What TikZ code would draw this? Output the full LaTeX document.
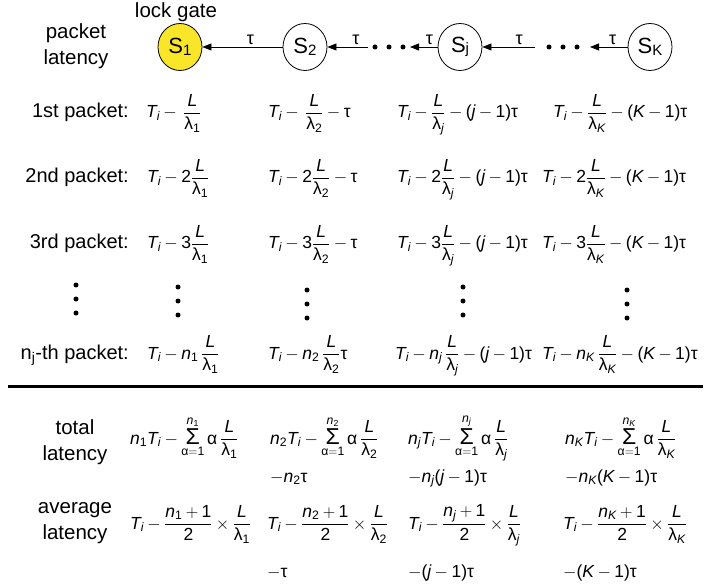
\documentclass[tikz,border=0pt]{standalone}
\usepackage{amsmath}
\usepackage{fontspec}
\setmainfont{Liberation Sans}
\usetikzlibrary{arrows.meta,shapes.geometric}
\definecolor{gateyellow}{RGB}{250,230,40}
\AtBeginDocument{\medmuskip=3.5mu\relax\thickmuskip=4mu\relax}
\newcommand{\mv}[1]{\textit{#1}}
\newcommand{\tn}[1]{\text{#1}}
\newcommand{\dOne}{\text{1}}
\newcommand{\mT}{\mv{T}_{\mv{i}}}
\newcommand{\mlam}{\text{λ}}
\newcommand{\mtau}{\text{τ}}
\newcommand{\malpha}{\text{α}}
\newcommand{\mfr}[1]{\dfrac{\mv{L}}{\mlam_{#1}}}
\newcommand{\mpar}[1]{\tn{(}#1-\tn{1)}}
\newcommand{\msum}[1]{\mathop{\text{\fontsize{23}{23}\selectfont Σ}}\limits_{\malpha=\dOne}^{#1}}
\newcommand{\Sn}[1]{{\fontsize{22}{22}\selectfont S}{\fontsize{15}{15}\selectfont\raisebox{-1.5pt}{#1}}}
\tikzset{
  lbl/.style={anchor=base east, font=\fontsize{20}{24}\selectfont, inner sep=0pt},
  clbl/.style={align=center, font=\fontsize{20.5}{26}\selectfont, inner sep=0pt},
  fm/.style={anchor=base west, font=\fontsize{17.5}{20}\selectfont, inner sep=0pt},
  stn/.style={draw, ellipse, line width=0.8pt, minimum width=44pt, minimum height=47pt, inner sep=0pt},
  arr/.style={line width=0.8pt, -{Triangle[length=9pt,width=7pt]}},
  tl/.style={above, font=\fontsize{18}{18}\selectfont, inner sep=2pt},
  dot/.style={circle, fill, inner sep=0pt, minimum size=5pt},
}
\begin{document}
\begin{tikzpicture}[x=1pt,y=-1pt]
\useasboundingbox (0,0) rectangle (723,588);
% top chain
\node[clbl] (gate) at (176,12) {lock gate};
\node[clbl] (pl) at (76,46) {packet\\latency};
\node[stn, fill=gateyellow] (s1) at (180,47) {\Sn{1}};
\node[stn] (s2) at (305,47) {\Sn{2}};
\node[stn] (sj) at (460,47) {\Sn{j}};
\node[stn] (sk) at (650,47) {\Sn{K}};
\coordinate (d1r) at (368,47);
\coordinate (d1l) at (410,47);
\coordinate (d2r) at (535,47);
\coordinate (d2l) at (590,47);
\node[dot] (a1) at (375,47) {};
\node[dot] (a2) at (389,47) {};
\node[dot] (a3) at (403,47) {};
\node[dot] (b1) at (549,47) {};
\node[dot] (b2) at (563,47) {};
\node[dot] (b3) at (577,47) {};
\draw[arr] (s2) -- (s1) node[tl, pos=0.4] {τ};
\draw[arr] (d1r) -- (s2) node[tl, pos=0.3] {τ};
\draw[arr] (sj) -- (d1l) node[tl, pos=0.3] {τ};
\draw[arr] (d2r) -- (sj) node[tl, pos=0.3] {τ};
\draw[arr] (sk) -- (d2l) node[tl, pos=0.4] {τ};
% row 1
\node[lbl] (l1) at (129,118) {1st packet:};
\node[fm] (r1c1) at (146,118) {$\mT-\,\mfr{\dOne}$};
\node[fm] (r1c2) at (268,118) {$\mT-\,\mfr{\tn{2}}-\mtau$};
\node[fm] (r1c3) at (397,118) {$\mT-\mfr{\mv{j}}-\mpar{\mv{j}}\mtau$};
\node[fm] (r1c4) at (553,118) {$\mT-\mfr{\mv{K}}-\mpar{\mv{K}}\mtau$};
% row 2
\node[lbl] (l2) at (129,183) {2nd packet:};
\node[fm] (r2c1) at (147,183) {$\mT-\tn{2}\mfr{\dOne}$};
\node[fm] (r2c2) at (268,183) {$\mT-\tn{2}\mfr{\tn{2}}-\mtau$};
\node[fm] (r2c3) at (397,183) {$\mT-\tn{2}\mfr{\mv{j}}-\mpar{\mv{j}}\mtau$};
\node[fm] (r2c4) at (542,183) {$\mT-\tn{2}\mfr{\mv{K}}-\mpar{\mv{K}}\mtau$};
% row 3
\node[lbl] (l3) at (129,249) {3rd packet:};
\node[fm] (r3c1) at (147,249) {$\mT-\tn{3}\mfr{\dOne}$};
\node[fm] (r3c2) at (268,249) {$\mT-\tn{3}\mfr{\tn{2}}-\mtau$};
\node[fm] (r3c3) at (397,249) {$\mT-\tn{3}\mfr{\mv{j}}-\mpar{\mv{j}}\mtau$};
\node[fm] (r3c4) at (542,249) {$\mT-\tn{3}\mfr{\mv{K}}-\mpar{\mv{K}}\mtau$};
% vertical dots
\foreach \x/\y [count=\c] in {76/285,178/287,307/290,463/287,627/290}{
  \node[dot] (v\c a) at (\x,\y) {};
  \node[dot] (v\c b) at (\x,\y+14) {};
  \node[dot] (v\c c) at (\x,\y+28) {};
}
% row n
\node[lbl] (ln) at (129,359) {n\textsubscript{j}-th packet:};
\node[fm] (rnc1) at (147,359) {$\mT-\mv{n}_{\dOne}\,\mfr{\dOne}$};
\node[fm] (rnc2) at (268,359) {$\mT-\mv{n}_{\tn{2}}\,\mfr{\tn{2}}\mtau$};
\node[fm] (rnc3) at (395,359) {$\mT-\mv{n}_{\mv{j}}\,\mfr{\mv{j}}-\mpar{\mv{j}}\mtau$};
\node[fm] (rnc4) at (542,359) {$\mT-\mv{n}_{\mv{K}}\,\mfr{\mv{K}}-\mpar{\mv{K}}\mtau$};
% separator
\coordinate (hl) at (8,386);
\coordinate (hr) at (703,386);
\draw[line width=3pt] (hl) -- (hr);
% total latency
\node[clbl] (tl) at (75,442) {total\\latency};
\node[fm] (tc1) at (130,444) {$\mv{n}_{\dOne}\mT-\msum{\mv{n}_{\dOne}}\malpha\,\mfr{\dOne}$};
\node[fm] (tc2) at (270,444) {$\mv{n}_{\tn{2}}\mT-\msum{\mv{n}_{\tn{2}}}\malpha\,\mfr{\tn{2}}$};
\node[fm] (tc3) at (408,444) {$\mv{n}_{\mv{j}}\mT-\msum{\mv{n}_{\mv{j}}}\malpha\,\mfr{\mv{j}}$};
\node[fm] (tc4) at (565,444) {$\mv{n}_{\mv{K}}\mT-\msum{\mv{n}_{\mv{K}}}\malpha\,\mfr{\mv{K}}$};
\node[fm] (td2) at (270,482) {$-\mv{n}_{\tn{2}}\mtau$};
\node[fm] (td3) at (408,482) {$-\mv{n}_{\mv{j}}\mpar{\mv{j}}\mtau$};
\node[fm] (td4) at (565,482) {$-\mv{n}_{\mv{K}}\mpar{\mv{K}}\mtau$};
% average latency
\node[clbl] (al) at (75,523) {average\\latency};
\node[fm] (ac1) at (130,529) {$\mT-\dfrac{\mv{n}_{\dOne}+\dOne}{\tn{2}}\times\mfr{\dOne}$};
\node[fm] (ac2) at (267,529) {$\mT-\dfrac{\mv{n}_{\tn{2}}+\dOne}{\tn{2}}\times\mfr{\tn{2}}$};
\node[fm] (ac3) at (408,529) {$\mT-\dfrac{\mv{n}_{\mv{j}}+\dOne}{\tn{2}}\times\mfr{\mv{j}}$};
\node[fm] (ac4) at (563,529) {$\mT-\dfrac{\mv{n}_{\mv{K}}+\dOne}{\tn{2}}\times\mfr{\mv{K}}$};
\node[fm] (ad2) at (267,577) {$-\mtau$};
\node[fm] (ad3) at (408,577) {$-\mpar{\mv{j}}\mtau$};
\node[fm] (ad4) at (563,577) {$-\mpar{\mv{K}}\mtau$};
\end{tikzpicture}
\end{document}
